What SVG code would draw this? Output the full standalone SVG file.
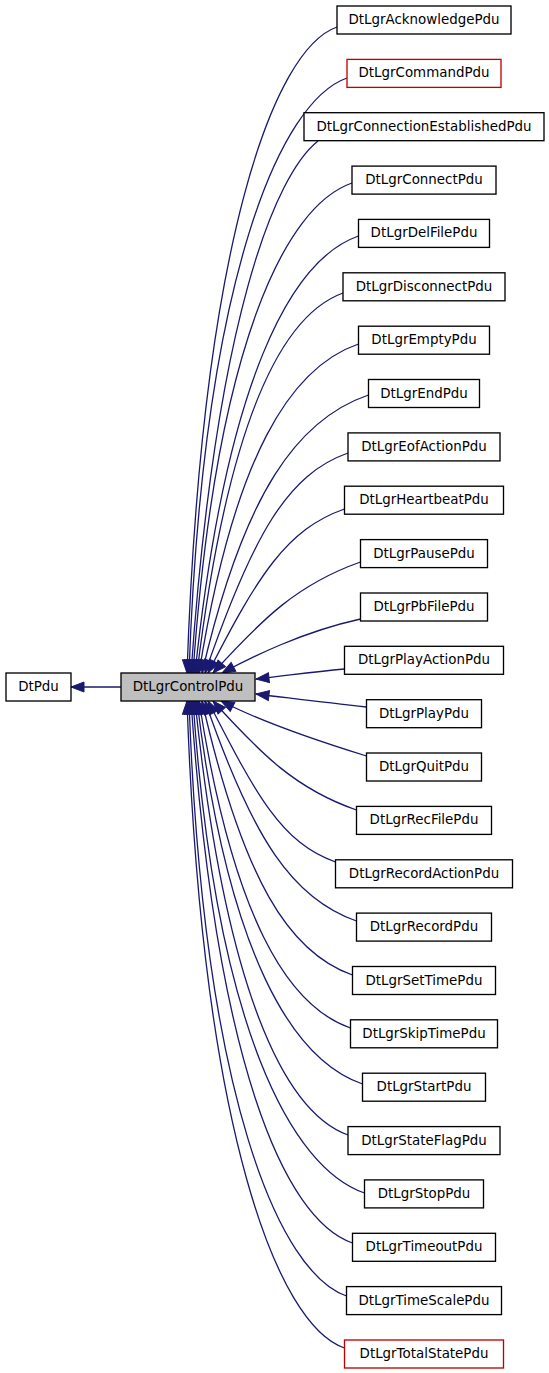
<svg xmlns="http://www.w3.org/2000/svg" width="549" height="1373" viewBox="0 0 549 1373">
<style>
.node rect{fill:#ffffff;stroke:#000000;stroke-width:1.33}
.node.red rect{stroke:#c00000}
.node.cur rect{fill:#bfbfbf}
.node text{font-family:"DejaVu Sans","Liberation Sans",sans-serif;font-size:13.4px;fill:#000;text-anchor:middle}
#edges path{fill:none;stroke:#191970;stroke-width:1.3;marker-end:url(#arr)}
</style>
<defs>
<marker id="arr" markerUnits="userSpaceOnUse" markerWidth="13" markerHeight="10" viewBox="0 0 13 10" refX="13" refY="5" orient="auto" overflow="visible">
<path d="M0,0 L13,5 L0,10 z" fill="#191970" stroke="#191970" stroke-width="1"/>
</marker>
</defs>
<rect width="549" height="1373" fill="#ffffff"/>
<g id="edges">
<path d="M121,687 L71,687"/>
<path d="M337,27 C274,49 202,240 187,673"/>
<path d="M347,78 C281,101 203,275 189,673"/>
<path d="M318,141 C275,175 216,318 191,673"/>
<path d="M352,183 C285,206 216,346 193,673"/>
<path d="M358.5,236 C290,260 226,382 195,673"/>
<path d="M343,293 C282,315 228,420 197,673"/>
<path d="M358.5,344 C291,367 234,455 199,673"/>
<path d="M368.5,395 C298,419 244,492 202,673"/>
<path d="M348,453 C288,474 253,534 205,673"/>
<path d="M344.5,509 C287,529 258,575 208,673"/>
<path d="M360.5,562 C298,584 263,618 213,673"/>
<path d="M360.5,619 C302,632 254,656 222,673"/>
<path d="M344.5,669 C310,672 285,676 256,679"/>
<path d="M366.5,707 C320,702 290,698 256,694"/>
<path d="M366.5,756 C305,737 254,718 221,701"/>
<path d="M356.5,810 C296,789 262,755 213,701"/>
<path d="M335.5,862 C282,843 257,797 208,701"/>
<path d="M356.5,921 C293,899 253,840 205,701"/>
<path d="M352.5,975 C289,953 243,880 202,701"/>
<path d="M350.5,1028 C287,1006 233,917 199,701"/>
<path d="M362.5,1084 C293,1060 228,956 197,701"/>
<path d="M348,1135 C284,1112 225,990 195,701"/>
<path d="M364.5,1193 C292,1168 216,1030 193,701"/>
<path d="M352.5,1243 C284,1219 216,1063 191,701"/>
<path d="M346.5,1296 C280,1273 203,1099 189,701"/>
<path d="M344.5,1348 C278,1325 202,1134 187,701"/>
</g>
<g id="n-DtPdu" class="node"><rect x="6" y="673" width="65" height="28"/><text x="38.5" y="691">DtPdu</text></g>
<g id="n-DtLgrControlPdu" class="node cur"><rect x="121" y="673" width="134" height="28"/><text x="188" y="691">DtLgrControlPdu</text></g>
<g id="n-DtLgrAcknowledgePdu" class="node"><rect x="337" y="6" width="174" height="28"/><text x="424" y="24">DtLgrAcknowledgePdu</text></g>
<g id="n-DtLgrCommandPdu" class="node red"><rect x="347" y="59.4" width="154" height="28"/><text x="424" y="77.4">DtLgrCommandPdu</text></g>
<g id="n-DtLgrConnectionEstablishedPdu" class="node"><rect x="304" y="112.7" width="240" height="28"/><text x="424" y="130.7">DtLgrConnectionEstablishedPdu</text></g>
<g id="n-DtLgrConnectPdu" class="node"><rect x="352" y="166.1" width="144" height="28"/><text x="424" y="184.1">DtLgrConnectPdu</text></g>
<g id="n-DtLgrDelFilePdu" class="node"><rect x="358.5" y="219.4" width="131" height="28"/><text x="424" y="237.4">DtLgrDelFilePdu</text></g>
<g id="n-DtLgrDisconnectPdu" class="node"><rect x="343" y="272.8" width="162" height="28"/><text x="424" y="290.8">DtLgrDisconnectPdu</text></g>
<g id="n-DtLgrEmptyPdu" class="node"><rect x="358.5" y="326.2" width="131" height="28"/><text x="424" y="344.2">DtLgrEmptyPdu</text></g>
<g id="n-DtLgrEndPdu" class="node"><rect x="368.5" y="379.5" width="111" height="28"/><text x="424" y="397.5">DtLgrEndPdu</text></g>
<g id="n-DtLgrEofActionPdu" class="node"><rect x="348" y="432.9" width="152" height="28"/><text x="424" y="450.9">DtLgrEofActionPdu</text></g>
<g id="n-DtLgrHeartbeatPdu" class="node"><rect x="344.5" y="486.2" width="159" height="28"/><text x="424" y="504.2">DtLgrHeartbeatPdu</text></g>
<g id="n-DtLgrPausePdu" class="node"><rect x="360.5" y="539.6" width="127" height="28"/><text x="424" y="557.6">DtLgrPausePdu</text></g>
<g id="n-DtLgrPbFilePdu" class="node"><rect x="360.5" y="593" width="127" height="28"/><text x="424" y="611">DtLgrPbFilePdu</text></g>
<g id="n-DtLgrPlayActionPdu" class="node"><rect x="344.5" y="646.3" width="159" height="28"/><text x="424" y="664.3">DtLgrPlayActionPdu</text></g>
<g id="n-DtLgrPlayPdu" class="node"><rect x="366.5" y="699.7" width="115" height="28"/><text x="424" y="717.7">DtLgrPlayPdu</text></g>
<g id="n-DtLgrQuitPdu" class="node"><rect x="366.5" y="753" width="115" height="28"/><text x="424" y="771">DtLgrQuitPdu</text></g>
<g id="n-DtLgrRecFilePdu" class="node"><rect x="356.5" y="806.4" width="135" height="28"/><text x="424" y="824.4">DtLgrRecFilePdu</text></g>
<g id="n-DtLgrRecordActionPdu" class="node"><rect x="335.5" y="859.8" width="177" height="28"/><text x="424" y="877.8">DtLgrRecordActionPdu</text></g>
<g id="n-DtLgrRecordPdu" class="node"><rect x="356.5" y="913.1" width="135" height="28"/><text x="424" y="931.1">DtLgrRecordPdu</text></g>
<g id="n-DtLgrSetTimePdu" class="node"><rect x="352.5" y="966.5" width="143" height="28"/><text x="424" y="984.5">DtLgrSetTimePdu</text></g>
<g id="n-DtLgrSkipTimePdu" class="node"><rect x="350.5" y="1019.8" width="147" height="28"/><text x="424" y="1037.8">DtLgrSkipTimePdu</text></g>
<g id="n-DtLgrStartPdu" class="node"><rect x="362.5" y="1073.2" width="123" height="28"/><text x="424" y="1091.2">DtLgrStartPdu</text></g>
<g id="n-DtLgrStateFlagPdu" class="node"><rect x="348" y="1126.6" width="152" height="28"/><text x="424" y="1144.6">DtLgrStateFlagPdu</text></g>
<g id="n-DtLgrStopPdu" class="node"><rect x="364.5" y="1179.9" width="119" height="28"/><text x="424" y="1197.9">DtLgrStopPdu</text></g>
<g id="n-DtLgrTimeoutPdu" class="node"><rect x="352.5" y="1233.3" width="143" height="28"/><text x="424" y="1251.3">DtLgrTimeoutPdu</text></g>
<g id="n-DtLgrTimeScalePdu" class="node"><rect x="346.5" y="1286.6" width="155" height="28"/><text x="424" y="1304.6">DtLgrTimeScalePdu</text></g>
<g id="n-DtLgrTotalStatePdu" class="node red"><rect x="344.5" y="1340" width="159" height="28"/><text x="424" y="1358">DtLgrTotalStatePdu</text></g>
</svg>
